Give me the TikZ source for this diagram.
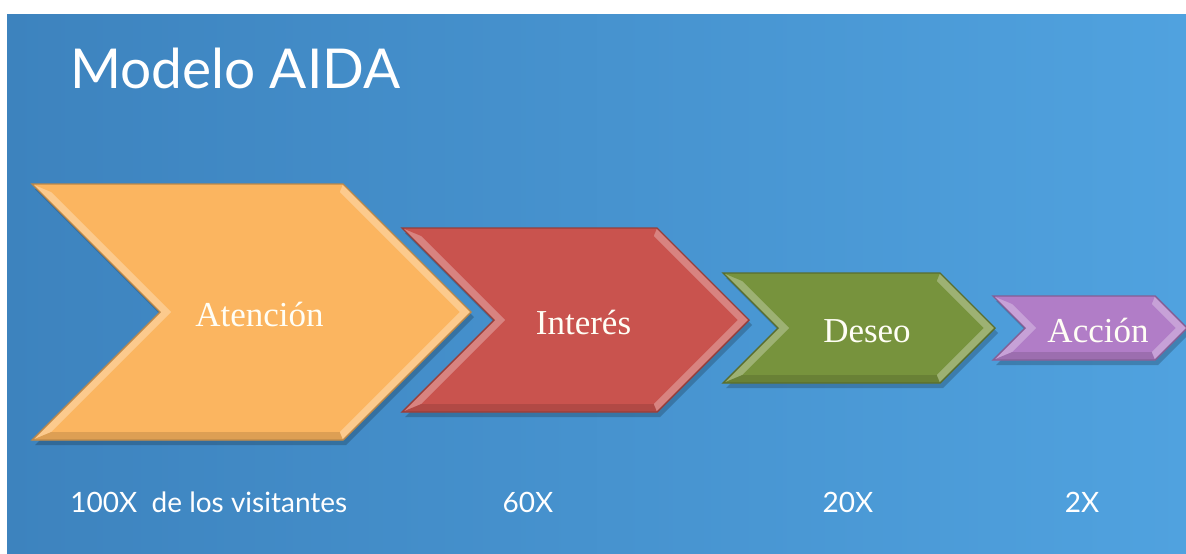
\documentclass[tikz,border=0pt]{standalone}
\usepackage{fontspec}
\setmainfont{Liberation Serif}
\newfontfamily\gillfont{Lato}
\usetikzlibrary{calc}
\definecolor{AIDABlueL}{RGB}{61,131,190}
\definecolor{AIDABlueR}{RGB}{80,162,223}
\definecolor{AtnOrange}{RGB}{251,181,96}
\definecolor{IntRed}{RGB}{201,83,78}
\definecolor{DesGreen}{RGB}{119,147,61}
\definecolor{AccPurple}{RGB}{177,125,199}

\begin{document}
\begin{tikzpicture}[x=0.5pt,y=-0.5pt,
    % Chevron: {label}{body width}{half height}{colour}
    pics/chevron/.style n args={4}{code={
        \fill[black,opacity=0.2] (3,{-#3+5}) -- ({#2+3},{-#3+5}) -- ({#2+#3+3},5) -- ({#2+3},{#3+5}) -- (3,{#3+5}) -- ({#3+3},5) -- cycle;
        \fill[#4!72!white] (0,-#3) -- (#2,-#3) -- ({#2+#3},0) -- (#2,#3) -- (0,#3) -- (#3,0) -- cycle;
        \fill[#4] (19.3,{-#3+8}) -- ({#2-3.3},{-#3+8}) -- ({#2+#3-11.3},0) -- ({#2-3.3},{#3-8}) -- (19.3,{#3-8}) -- ({#3+11.3},0) -- cycle;
        \fill[#4] (0,-#3) -- (#2,-#3) -- ({#2-3.3},{-#3+8}) -- (19.3,{-#3+8}) -- cycle;
        \fill[#4!88!black] (0,#3) -- (#2,#3) -- ({#2-3.3},{#3-8}) -- (19.3,{#3-8}) -- cycle;
        \draw[#4!75!black, line width=0.7] (0,-#3) -- (#2,-#3) -- ({#2+#3},0) -- (#2,#3) -- (0,#3) -- (#3,0) -- cycle;
        \node[stagetext] (-t) at ({(#2+#3)/2+8},14) {#1};
    }},
    stagetext/.style={anchor=base, text=white!96!yellow, font=\fontsize{17.5}{20}\selectfont, inner sep=0},
    countlbl/.style={anchor=base, text=white, font=\gillfont\fontsize{14}{17}\selectfont, inner sep=0},
    titlelbl/.style={anchor=base west, text=white, font=\gillfont\fontsize{27.5}{33}\selectfont, inner sep=0}
]
    \useasboundingbox (0,0) rectangle (1186,553);
    \fill[white] (0,0) rectangle (1186,553);
    \shade[left color=AIDABlueL, right color=AIDABlueR] (7,14) rectangle (1186,553);

    % Title
    \node[titlelbl] (title) at (70,88) {Modelo AIDA};

    % Stages
    \path (32,312) pic (atn) {chevron={Atención}{311}{128}{AtnOrange}};
    \path (402,320) pic (int) {chevron={Interés}{255}{92}{IntRed}};
    \path (723,328) pic (des) {chevron={Deseo}{217}{55}{DesGreen}};
    \path (993,328) pic (acc) {chevron={Acción}{162}{32}{AccPurple}};

    % Counts
    \node[countlbl, anchor=base west] (c100) at (70,512) {100X\ \ de los visitantes};
    \node[countlbl] (c60) at (528,512) {60X};
    \node[countlbl] (c20) at (848,512) {20X};
    \node[countlbl] (c2) at (1082,512) {2X};
\end{tikzpicture}
\end{document}
